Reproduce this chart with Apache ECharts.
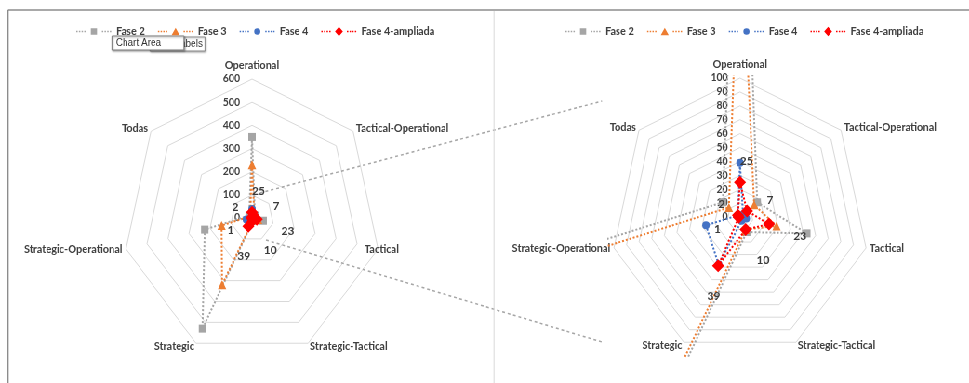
<!DOCTYPE html>
<html><head><meta charset="utf-8">
<script src="https://cdn.jsdelivr.net/npm/echarts@6/dist/echarts.min.js"></script>
<style>
html,body{margin:0;padding:0;background:#fff;overflow:hidden;width:969px;height:383px;}
#wrap{position:absolute;left:0;top:0;width:1042px;height:383px;transform:scaleX(0.93);transform-origin:0 0;}
#main{position:absolute;left:0;top:0;width:1042px;height:383px;}
#zoom{position:absolute;left:653px;top:75px;width:299px;height:283px;overflow:hidden;}
</style></head><body>
<div id="wrap"><div id="main"></div><div id="zoom"></div></div>
<script>
// ---------- DATA ----------
const categories = ['Operational','Tactical-Operational','Tactical','Strategic-Tactical','Strategic','Strategic-Operational','Todas'];
const seriesNames = ['Fase 2','Fase 3','Fase 4','Fase 4-ampliada'];
const fase2 = [350, 17, 53, 12, 530, 225, 17];
const fase3 = [230, 14, 29, 10, 320, 145, 11];
const fase4 = [39, 3, 5, 3, 38, 27, 2];
const fase4ampliada = [25, 7, 23, 10, 39, 1, 2];
const leftMax = 600, leftSplits = 6;    // ticks 0,100,...,600
const rightMax = 100, rightSplits = 10; // ticks 0,10,...,100

// ---------- STYLE / LAYOUT ----------
const FONT = 'Lato, "Liberation Sans", sans-serif';
const TXT = '#404040';
const S = 0.93; // horizontal squeeze of the reference picture
const R = 139;
const leftCenter = [271, 218];
const rightCenter = [795.7, 217];
const zoomOrigin = [653, 75];
const colors = ['#A5A5A5', '#ED7D31', '#4472C4', '#FF0000'];
const symbols = ['rect', 'triangle', 'circle', 'diamond'];
const symbolSizes = [8, 9, 8, 13];
const allValues = [fase2, fase3, fase4, fase4ampliada];
// ECharts radar runs counter-clockwise; Excel runs clockwise -> reorder axes
const order = [0, 6, 5, 4, 3, 2, 1];
const reorder = arr => order.map(i => arr[i]);

function dots(x0){let s='';for(let i=0;i<4;i++){s+='M'+(x0+i*3)+' 4.2h1.6v1.6h-1.6Z';}return s;}
const frame = 'M0 0h0.01v0.01h-0.01ZM39.99 9.99h0.01v0.01h-0.01Z';
const markers = [
  'M16.5 1.5h7v7h-7Z',
  'M20 1L24.5 9H15.5Z',
  'M20 1.5A3.5 3.5 0 1 1 19.99 1.5Z',
  'M20 0L24.5 5L20 10L15.5 5Z'
];
const legendData = seriesNames.map((n,i)=>({name:n, icon:'path://' + frame + dots(0) + markers[i] + dots(29)}));

function radarCfg(center, max, split, show, centeredNames){
  return {
    center: center, radius: R, startAngle: 90, shape: 'polygon', splitNumber: split,
    indicator: reorder(categories).map((c,i)=>{
      const o = {name: c, max: max, min: 0};
      if (i === 0) { o.axisLabel = {show: show}; o.nameGap = 8; }
      if (centeredNames && centeredNames.indexOf(c) >= 0) { o.nameTextStyle = {align: 'center'}; }
      return o;
    }),
    axisName: {show: show, color: TXT, fontFamily: FONT, fontWeight: 'bold', fontSize: 11},
    nameGap: 4,
    axisLine: {show: false}, axisTick: {show: false},
    splitLine: {show: show, lineStyle: {color: '#D9D9D9', width: 1}},
    splitArea: {show: false},
    axisLabel: {show: false, color: TXT, fontFamily: FONT, fontWeight: 'bold', fontSize: 10.5, margin: 13}
  };
}

function labelLayoutFor(center, max){
  return function(p){
    const k = fase4ampliada.indexOf(Number(p.text));
    if (k < 0) return {};
    const a = k * 2 * Math.PI / categories.length; // clockwise from top
    const d = fase4ampliada[k] / max * R + 27;
    return {x: center[0] + Math.sin(a) * d, y: center[1] - Math.cos(a) * d};
  };
}

function makeSeries(radarIndex, center, max){
  return seriesNames.map((n,i)=>{
    const s = {
      type: 'radar', name: n, radarIndex: radarIndex,
      symbol: symbols[i], symbolSize: symbolSizes[i],
      data: [{name: n, value: reorder(allValues[i])}],
      lineStyle: {color: colors[i], width: 2, type: [2, 2]},
      itemStyle: {color: colors[i]},
      z: 2 + i
    };
    if (i === 3) {
      s.label = {show: true, position: 'inside', color: '#3A3A3A', fontFamily: FONT, fontWeight: 'bold', fontSize: 12};
      s.labelLayout = labelLayoutFor(center, max);
    }
    return s;
  });
}

function legendCfg(left){
  return {
    data: legendData, left: left, top: 21, itemWidth: 38, itemHeight: 10, itemGap: 14,
    textStyle: {color: TXT, fontFamily: FONT, fontWeight: 'bold', fontSize: 11},
    itemStyle: {borderWidth: 0}
  };
}

const X = x => x / S;

const main = echarts.init(document.getElementById('main'), null, {renderer: 'canvas'});
main.setOption({
  animation: false,
  backgroundColor: '#fff',
  legend: [legendCfg(77), legendCfg(603)],
  radar: [radarCfg(leftCenter, leftMax, leftSplits, true, ['Tactical']), radarCfg(rightCenter, rightMax, rightSplits, true)],
  series: makeSeries(0, leftCenter, leftMax),
  graphic: [
    {type: 'line', shape: {x1: X(8), y1: 10, x2: 1042, y2: 10}, style: {stroke: '#8C8C8C', lineWidth: 1.5}, z: 10},
    {type: 'line', shape: {x1: X(8), y1: 10, x2: X(8), y2: 383}, style: {stroke: '#8C8C8C', lineWidth: 1.5}, z: 10},
    {type: 'line', shape: {x1: X(494), y1: 11, x2: X(494), y2: 383}, style: {stroke: '#D9D9D9', lineWidth: 1}, z: 10},
    {type: 'line', shape: {x1: X(260), y1: 193, x2: X(602), y2: 101}, style: {stroke: '#A6A6A6', lineWidth: 1.5, lineDash: [3, 3]}, z: 1},
    {type: 'line', shape: {x1: X(266), y1: 240, x2: X(602), y2: 342}, style: {stroke: '#A6A6A6', lineWidth: 1.5, lineDash: [3, 3]}, z: 1},
    {type: 'group', z: 20, children: [
      {type: 'rect', shape: {x: X(150), y: 37, width: X(205) - X(150), height: 14}, style: {fill: '#fff', stroke: '#8C8C8C', lineWidth: 1, shadowBlur: 2, shadowColor: 'rgba(0,0,0,0.3)', shadowOffsetX: 1, shadowOffsetY: 1}},
      {type: 'text', x: X(153), y: 44, style: {text: 'Data Labels', fill: '#333', font: '10px "Liberation Sans", sans-serif', verticalAlign: 'middle'}},
      {type: 'rect', shape: {x: X(112), y: 36, width: X(184) - X(112), height: 14}, style: {fill: '#fff', stroke: '#7F7F7F', lineWidth: 1, shadowBlur: 2, shadowColor: 'rgba(0,0,0,0.35)', shadowOffsetX: 1, shadowOffsetY: 1}},
      {type: 'text', x: X(116), y: 43, style: {text: 'Chart Area', fill: '#333', font: '10px "Liberation Sans", sans-serif', verticalAlign: 'middle'}}
    ]}
  ]
});

const zoomCenter = [rightCenter[0] - zoomOrigin[0], rightCenter[1] - zoomOrigin[1]];
const zoom = echarts.init(document.getElementById('zoom'), null, {renderer: 'canvas'});
zoom.setOption({
  animation: false,
  radar: [radarCfg(zoomCenter, rightMax, rightSplits, false)],
  series: makeSeries(0, zoomCenter, rightMax)
});
</script>
</body></html>
